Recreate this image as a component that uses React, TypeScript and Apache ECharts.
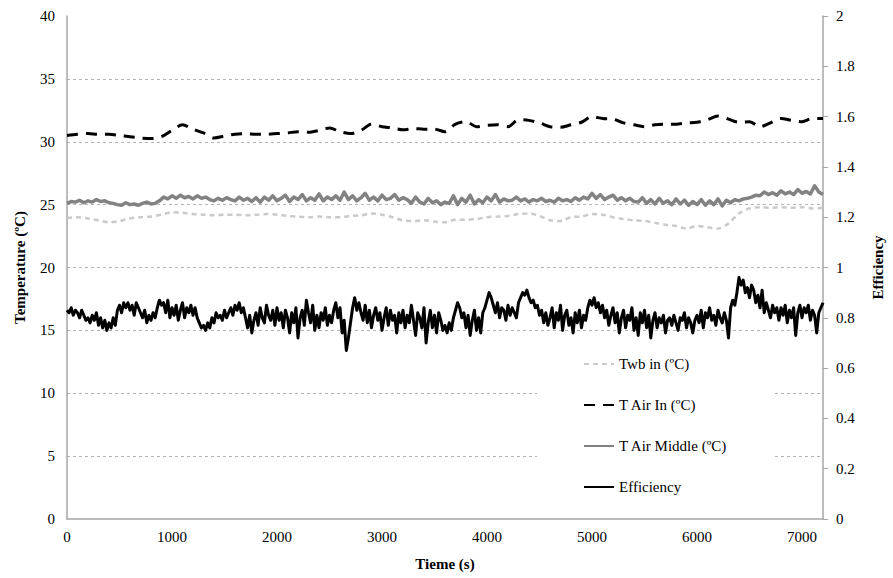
import React, { useEffect, useRef } from "react";
import * as echarts from "echarts";

const T_END = 7200;
const X_TICKS = [0, 1000, 2000, 3000, 4000, 5000, 6000, 7000];

const SERIES_NAMES = ["Twb in (ºC)", "T Air In (ºC)", "T Air Middle (ºC)", "Efficiency"];

// step 100 s
const twbIn = [
  23.95, 24.0, 23.9, 23.75, 23.6, 23.7, 23.9, 24.0, 24.05, 24.2,
  24.4, 24.35, 24.25, 24.2, 24.15, 24.2, 24.2, 24.15, 24.2, 24.25,
  24.2, 24.1, 24.05, 24.0, 24.05, 24.0, 24.0, 24.1, 24.15, 24.3,
  24.2, 24.0, 23.75, 23.7, 23.75, 23.65, 23.6, 23.8, 23.8, 23.85,
  24.0, 24.05, 24.1, 24.25, 24.3, 24.1, 23.75, 23.7, 24.0, 24.05,
  24.25, 24.2, 24.0, 23.85, 23.75, 23.7, 23.55, 23.4, 23.3, 23.1,
  23.3, 23.2, 23.1, 23.5, 24.3, 24.7, 24.8, 24.75, 24.8, 24.75,
  24.8, 24.7, 24.75,
];

// step 100 s
const tAirIn = [
  30.5, 30.6, 30.65, 30.6, 30.6, 30.5, 30.4, 30.3, 30.25, 30.4,
  30.9, 31.35, 31.0, 30.7, 30.3, 30.45, 30.6, 30.65, 30.6, 30.6,
  30.65, 30.7, 30.8, 30.75, 30.9, 31.1, 30.8, 30.65, 30.9, 31.4,
  31.2, 31.1, 30.95, 31.05, 31.0, 31.0, 30.8, 31.4, 31.6, 31.2,
  31.3, 31.35, 31.2, 31.75, 31.7, 31.5, 31.2, 31.15, 31.35, 31.55,
  32.0, 31.85, 31.8, 31.5, 31.35, 31.2, 31.35, 31.4, 31.4, 31.5,
  31.55, 31.75, 32.05, 31.8, 31.55, 31.6, 31.2, 31.5, 31.85, 31.7,
  31.6, 31.85, 31.85,
];

// step 40 s
const tAirMiddle = [
  25.1, 25.25, 25.2, 25.35, 25.15, 25.3, 25.2, 25.4, 25.25, 25.3, 25.15,
  25.1, 25.0, 24.95, 25.15, 25.0, 25.05, 24.95, 25.1, 25.2, 25.05, 25.1,
  25.3, 25.6, 25.45, 25.7, 25.5, 25.75, 25.55, 25.65, 25.45, 25.7, 25.5, 25.6, 25.4,
  25.3, 25.5, 25.35, 25.55, 25.4, 25.3, 25.6, 25.35, 25.5, 25.25,
  25.55, 25.2, 25.6, 25.35, 25.7, 25.3, 25.5, 25.75, 25.25, 25.6, 25.4, 25.8, 25.3, 25.55, 25.35, 25.85, 25.3, 25.6, 25.4, 25.7, 25.35,
  26.0, 25.4, 25.7, 25.3, 25.55, 25.9, 25.35, 25.6, 25.3, 25.75, 25.4, 25.5, 25.8, 25.35, 25.55,
  25.4, 25.1, 25.6, 25.2, 25.05, 25.5, 25.15, 25.3, 25.0, 25.2,
  25.1, 25.7, 25.0, 25.5, 25.2, 25.75, 25.05, 25.4, 25.15, 25.6, 25.3, 25.8, 25.2, 25.45, 25.3,
  25.35, 25.6, 25.3, 25.45, 25.2, 25.4, 25.3, 25.5, 25.25, 25.35, 25.2, 25.5, 25.3, 25.4, 25.25, 25.55, 25.35, 25.6, 25.45,
  25.9, 25.5, 25.8, 25.4, 25.6, 25.75, 25.35, 25.55, 25.3, 25.5, 25.25,
  25.2, 25.55, 25.1, 25.4, 25.05, 25.5, 25.1, 25.3, 25.0, 25.45, 25.05, 25.35, 24.95, 25.25,
  25.0, 25.4, 24.95, 25.3, 25.0, 25.45, 24.9, 25.35, 25.15, 25.4,
  25.3, 25.45, 25.5, 25.6, 25.75,
  25.7, 26.0, 25.8, 25.95, 25.75, 26.1, 25.85, 26.0, 25.8, 26.2, 25.9, 26.05, 25.85, 26.5, 26.0, 25.8,
];

// step 20 s
const efficiency = [
  0.83, 0.82, 0.84, 0.81, 0.83, 0.82, 0.80, 0.83, 0.81, 0.79, 0.80, 0.78, 0.81, 0.79, 0.82, 0.77, 0.80, 0.76, 0.79, 0.75,
  0.78, 0.76, 0.80, 0.77, 0.83, 0.85, 0.82, 0.86, 0.84, 0.86, 0.83, 0.85, 0.81, 0.86, 0.84, 0.82, 0.80, 0.83, 0.78, 0.81,
  0.79, 0.82, 0.80, 0.84, 0.87, 0.85, 0.86, 0.82, 0.87, 0.80, 0.84, 0.81, 0.85, 0.79, 0.83, 0.86, 0.80, 0.84, 0.82, 0.85,
  0.81, 0.84, 0.80, 0.78, 0.76, 0.77, 0.75, 0.78, 0.76, 0.80, 0.78, 0.82, 0.80, 0.81, 0.79, 0.83, 0.80, 0.82, 0.84, 0.81,
  0.85, 0.83, 0.86, 0.82, 0.84, 0.80, 0.76, 0.81, 0.74, 0.79, 0.82, 0.77, 0.84, 0.80, 0.78, 0.85, 0.81, 0.79, 0.83, 0.77,
  0.84, 0.79, 0.82, 0.76, 0.83, 0.80, 0.74, 0.82, 0.78, 0.84, 0.72, 0.80, 0.83, 0.77, 0.87, 0.82, 0.78, 0.85, 0.75, 0.81,
  0.76, 0.82, 0.79, 0.84, 0.77, 0.81, 0.78, 0.83, 0.86, 0.80, 0.84, 0.74, 0.79, 0.67, 0.72, 0.78, 0.84, 0.88, 0.83, 0.86,
  0.82, 0.79, 0.85, 0.78, 0.83, 0.76, 0.81, 0.84, 0.79, 0.82, 0.75, 0.80, 0.84, 0.77, 0.83, 0.79, 0.81, 0.74, 0.82, 0.78,
  0.83, 0.76, 0.81, 0.78, 0.85, 0.79, 0.73, 0.82, 0.80, 0.76, 0.84, 0.70, 0.78, 0.83, 0.76, 0.81, 0.74, 0.82, 0.79, 0.75,
  0.77, 0.74, 0.78, 0.75, 0.80, 0.83, 0.86, 0.84, 0.80, 0.82, 0.76, 0.81, 0.73, 0.79, 0.83, 0.75, 0.80, 0.74, 0.82, 0.84,
  0.87, 0.90, 0.88, 0.85, 0.82, 0.86, 0.80, 0.84, 0.83, 0.79, 0.85, 0.81, 0.84, 0.82, 0.80, 0.86, 0.88, 0.90, 0.89, 0.91,
  0.88, 0.86, 0.87, 0.84, 0.85, 0.81, 0.83, 0.78, 0.82, 0.77, 0.80, 0.84, 0.76, 0.82, 0.79, 0.85, 0.75, 0.81, 0.83, 0.77,
  0.80, 0.74, 0.82, 0.78, 0.83, 0.76, 0.81, 0.79, 0.84, 0.87, 0.85, 0.88, 0.84, 0.86, 0.82, 0.85, 0.80, 0.83, 0.77, 0.81,
  0.84, 0.78, 0.82, 0.74, 0.80, 0.83, 0.76, 0.81, 0.79, 0.84, 0.75, 0.80, 0.73, 0.82, 0.78, 0.83, 0.76, 0.81, 0.72, 0.79,
  0.82, 0.76, 0.80, 0.78, 0.81, 0.74, 0.79, 0.80, 0.77, 0.81, 0.78, 0.75, 0.80, 0.79, 0.82, 0.76, 0.80, 0.78, 0.74, 0.79,
  0.81, 0.78, 0.83, 0.76, 0.82, 0.80, 0.84, 0.79, 0.81, 0.77, 0.83, 0.80, 0.78, 0.82, 0.79, 0.72, 0.84, 0.87, 0.85, 0.90,
  0.96, 0.93, 0.95, 0.90, 0.92, 0.88, 0.93, 0.91, 0.86, 0.89, 0.84, 0.91, 0.82, 0.86, 0.83, 0.80, 0.85, 0.82, 0.84, 0.79,
  0.84, 0.81, 0.85, 0.78, 0.83, 0.80, 0.84, 0.73, 0.82, 0.85, 0.80, 0.84, 0.82, 0.85, 0.79, 0.83, 0.81, 0.74, 0.82, 0.84,
  0.86,
];

function toPairs(values: number[]): [number, number][] {
  const step = T_END / (values.length - 1);
  return values.map((v, i) => [i * step, v]);
}

const FONT = "'Times New Roman', 'Liberation Serif', 'DejaVu Serif', serif";

export default function App() {
  const ref = useRef<HTMLDivElement>(null);

  useEffect(() => {
    if (!ref.current) return;
    const chart = echarts.init(ref.current, undefined, { renderer: "svg" });
    const axisGray = "#a6a6a6";
    const label = { fontFamily: FONT, fontSize: 15, color: "#000" };
    const nameStyle = { fontFamily: FONT, fontSize: 15, fontWeight: "bold", color: "#000" };
    const option = {
      animation: false,
      backgroundColor: "#ffffff",
      textStyle: { fontFamily: FONT, color: "#000" },
      grid: { left: 67, right: 64, top: 16, bottom: 59, containLabel: false },
      legend: {
        data: SERIES_NAMES,
        orient: "vertical",
        left: 537,
        top: 340,
        padding: [16, 46, 16, 46],
        backgroundColor: "#ffffff",
        itemWidth: 30,
        itemHeight: 14,
        itemGap: 25,
        itemStyle: { opacity: 0, color: "rgba(0,0,0,0)", borderWidth: 0 },
        textStyle: { ...label, lineHeight: 16 },
      },
      xAxis: {
        type: "value",
        min: 0,
        max: T_END,
        interval: 1000,
        name: "Tieme (s)",
        nameLocation: "middle",
        nameGap: 37,
        nameTextStyle: nameStyle,
        axisLine: { show: true, lineStyle: { color: axisGray, width: 1.5 } },
        axisTick: { show: false },
        axisLabel: {
          ...label,
          margin: 10,
          showMaxLabel: false,
          formatter: (v: number) => (X_TICKS.includes(v) ? String(v) : ""),
        },
        splitLine: { show: false },
      },
      yAxis: [
        {
          type: "value",
          min: 0,
          max: 40,
          interval: 5,
          position: "left",
          name: "Temperature (ºC)",
          nameLocation: "middle",
          nameRotate: 90,
          nameGap: 40,
          nameTextStyle: nameStyle,
          axisLine: { show: true, lineStyle: { color: axisGray, width: 1.5 } },
          axisTick: { show: false },
          axisLabel: { ...label, margin: 12 },
          splitLine: {
            show: true,
            showMinLine: false,
            showMaxLine: false,
            lineStyle: { color: "#b4b4b4", type: [3, 3], width: 1 },
          },
        },
        {
          type: "value",
          min: 0,
          max: 2,
          interval: 0.2,
          position: "right",
          name: "Efficiency",
          nameLocation: "middle",
          nameRotate: 90,
          nameGap: 47,
          nameTextStyle: nameStyle,
          axisLine: { show: true, lineStyle: { color: axisGray, width: 1.5 } },
          axisTick: { show: true, inside: false, length: 5, lineStyle: { color: axisGray } },
          axisLabel: { ...label, margin: 13 },
          splitLine: { show: false },
        },
      ],
      series: [
        {
          name: SERIES_NAMES[0],
          type: "line",
          yAxisIndex: 0,
          data: toPairs(twbIn),
          symbol: "none",
          smooth: 0.3,
          lineStyle: { color: "#cacaca", width: 2.5, type: [5, 4] },
          itemStyle: { color: "#cacaca" },
          z: 2,
        },
        {
          name: SERIES_NAMES[1],
          type: "line",
          yAxisIndex: 0,
          data: toPairs(tAirIn),
          symbol: "none",
          smooth: 0.3,
          lineStyle: { color: "#000000", width: 3, type: [11, 8] },
          itemStyle: { color: "#000000" },
          z: 3,
        },
        {
          name: SERIES_NAMES[2],
          type: "line",
          yAxisIndex: 0,
          data: toPairs(tAirMiddle),
          symbol: "none",
          lineStyle: { color: "#828282", width: 3.5, join: "round" },
          itemStyle: { color: "#828282" },
          z: 3,
        },
        {
          name: SERIES_NAMES[3],
          type: "line",
          yAxisIndex: 1,
          data: toPairs(efficiency),
          symbol: "none",
          lineStyle: { color: "#000000", width: 3, join: "round" },
          itemStyle: { color: "#000000" },
          z: 4,
        },
      ],
    };
    chart.setOption(option as any);
    return () => chart.dispose();
  }, []);

  return (
    <div
      ref={ref}
      style={{ position: "absolute", left: 0, top: 0, width: 893, height: 578 }}
    />
  );
}
